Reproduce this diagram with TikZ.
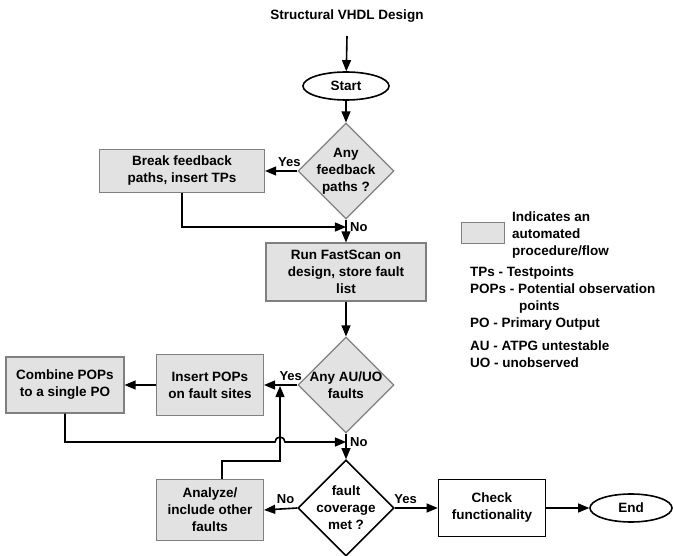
\documentclass[tikz,border=0pt]{standalone}
\usepackage{fontspec}
\setmainfont{Liberation Sans}
\usetikzlibrary{shapes,arrows,positioning}
\definecolor{autofill}{RGB}{226,226,226}
\definecolor{autoline}{RGB}{128,128,128}

\begin{document}
\begin{tikzpicture}[x=1pt,y=-1pt,>=triangle 45,
	  every node/.style = {font=\fontsize{13.5}{17}\selectfont\bfseries, align=center},
	  autobox/.style = {rectangle, draw=autoline, fill=autofill, line width=1.2pt, inner sep=2pt},
	  userbox/.style = {rectangle, draw, line width=1.6pt, inner sep=2pt},
	  term/.style = {ellipse, draw, line width=1.6pt, minimum width=86pt, minimum height=28pt},
	  query/.style = {diamond, draw=autoline, fill=autofill, line width=1.2pt,
	    minimum width=96pt, minimum height=96pt, inner sep=0pt},
	  lbl/.style = {font=\fontsize{13}{15}\selectfont\bfseries, inner sep=1pt},
	  flow/.style = {->, line width=1.6pt}]
	  \useasboundingbox (0,0) rectangle (673,556);
	  % main column
	  \node (title) at (347,16) {Structural VHDL Design};
	  \node[term] (start) at (346,86) {Start};
	  \node[query, label={center:Any\\feedback\\paths ?}] (fb) at (346,171) {};
	  \node[autobox, minimum width=165pt, minimum height=43pt] (brk) at (182,171) {Break feedback\\paths, insert TPs};
	  \node[autobox, minimum width=160pt, minimum height=58pt] (run) at (346,272) {Run FastScan on\\design, store fault\\list};
	  \node[query, label={center:Any AU/UO\\faults}] (auuo) at (346,385) {};
	  \node[autobox, minimum width=107pt, minimum height=61pt] (ins) at (210,385) {Insert POPs\\on fault sites};
	  \node[autobox, minimum width=118pt, minimum height=56pt] (comb) at (65,385) {Combine POPs\\to a single PO};
	  \node[query, fill=white, draw=black, line width=1.6pt, label={center:fault\\coverage\\met ?}] (cov) at (346,508) {};
	  \node[autobox, minimum width=107pt, minimum height=61pt] (ana) at (210,510) {Analyze/\\include other\\faults};
	  \node[userbox, minimum width=107pt, minimum height=57pt] (chk) at (492,508) {Check\\functionality};
	  \node[term, minimum width=82pt] (end) at (631,508) {End};
	  % joins
	  \coordinate (j1) at (346,227);
	  \coordinate (j2) at (346,442);
	  \coordinate (j3) at (280,386);
	  \draw[flow] ([yshift=-20pt]title.center) -- (start);
	  \draw[flow] (start) -- (fb);
	  \draw[flow] (fb.west) -- node[lbl, above, pos=.25, yshift=3pt] (yes1) {Yes} (brk.east);
	  \draw[flow] (brk.south) |- (j1);
	  \draw[flow] (fb.south) -- (run.north);
	  \node[lbl, right=3pt] (no1) at (j1) {No};
	  \draw[flow] (run) -- (auuo);
	  \draw[flow] (auuo.west) -- node[lbl, above, pos=.2, yshift=3pt] (yes2) {Yes} (ins.east);
	  \draw[flow] (ins) -- (comb);
	  \draw[flow] (comb.south) |- (275,442) arc[start angle=180, end angle=0, radius=5pt] -- (j2);
	  \draw[flow] (auuo.south) -- (cov.north);
	  \node[lbl, right=3pt] (no2) at (j2) {No};
	  \draw[flow] (cov.west) -- node[lbl, above, pos=.35, yshift=3pt] (no3) {No} (ana.east);
	  \draw[flow] ([xshift=12pt]ana.north) -- ++(0,-18) -| (j3);
	  \draw[flow] (cov.east) -- node[lbl, above, pos=.25, yshift=3pt] (yes3) {Yes} (chk.west);
	  \draw[flow] (chk) -- (end);
	  % legend
	  \node[autobox, minimum width=43pt, minimum height=21pt] (key) at (483,233) {};
	  \node[anchor=north west, align=left, inner sep=0pt] (keytxt) at (512,212) {Indicates an\\automated\\procedure/flow};
	  \node[anchor=north west, align=left, inner sep=0pt] (abbr) at (470,267)
	    {TPs - Testpoints\\POPs - Potential observation\\\hspace*{49pt}points\\PO - Primary Output\\[6pt]AU - ATPG untestable\\UO - unobserved};
	\end{tikzpicture}
\end{document}
